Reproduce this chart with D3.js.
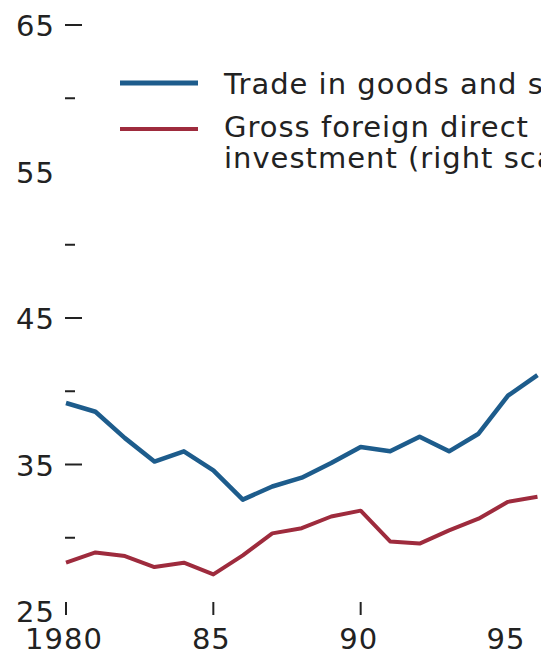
<!DOCTYPE html>
<html>
<head>
<meta charset="utf-8">
<script src="https://cdn.jsdelivr.net/npm/d3@7"></script>
<style>
  body { margin: 0; background: #fff; }
  svg { display: block; font-family: 'DejaVu Sans', sans-serif; }
  .label { font-size: 29px; fill: #222; letter-spacing: 1px; }
</style>
</head>
<body>
<div id="chart"></div>
<script>
// values; the red series is placed against the left axis
const years = [1980, 1981, 1982, 1983, 1984, 1985, 1986, 1987, 1988, 1989, 1990, 1991, 1992, 1993, 1994, 1995, 1996];
const trade = [39.2, 38.6, 36.8, 35.2, 35.9, 34.6, 32.6, 33.5, 34.1, 35.1, 36.2, 35.9, 36.9, 35.9, 37.1, 39.7, 41.1];
const fdi = [28.3, 29.0, 28.75, 28.0, 28.3, 27.5, 28.8, 30.3, 30.65, 31.45, 31.85, 29.75, 29.6, 30.5, 31.3, 32.45, 32.8];

const yLabels = [65, 55, 45, 35, 25];
const yMajor = [65, 45, 35];
const yMinor = [60, 50, 40, 30];
const xTicks = [1980, 1985, 1990];
const xLabels = [1980, 1985, 1990, 1995];
const legendItems = ['Trade in goods and services', 'Gross foreign direct', 'investment (right scale)'];

const width = 541;
const height = 657;
const blue = '#1d5c8c';
const red = '#9e2b3d';

let svg = d3.select('#chart').append('svg')
  .attr('width', width)
  .attr('height', height)

let x = d3.scaleLinear().domain([1980, 1995]).range([66, 508])
let y = d3.scaleLinear().domain([25, 65]).range([611, 25])
let y2 = d3.scaleLinear().domain([25, 65]).range([611, 25])

// left axis: long dashes, short minor dashes, labels
let yAxis = svg.append('g')
yAxis.selectAll('line.major').data(yMajor)
  .enter().append('line')
    .classed('major', true)
    .attr('x1', 65).attr('x2', 82)
    .attr('y1', d => y(d)).attr('y2', d => y(d))
    .attr('stroke', '#222').attr('stroke-width', 2)
yAxis.selectAll('line.minor').data(yMinor)
  .enter().append('line')
    .classed('minor', true)
    .attr('x1', 65).attr('x2', 75)
    .attr('y1', d => y(d)).attr('y2', d => y(d))
    .attr('stroke', '#222').attr('stroke-width', 2)
yAxis.selectAll('text').data(yLabels)
  .enter().append('text')
    .classed('label', true)
    .attr('x', 16)
    .attr('y', d => y(d) + 11)
    .text(d => d)

// bottom axis
let xAxis = svg.append('g')
xAxis.selectAll('line').data(xTicks)
  .enter().append('line')
    .attr('x1', d => x(d)).attr('x2', d => x(d))
    .attr('y1', 602).attr('y2', 615)
    .attr('stroke', '#222').attr('stroke-width', 2)
xAxis.selectAll('text').data(xLabels)
  .enter().append('text')
    .classed('label', true)
    .attr('x', d => x(d) - 2)
    .attr('y', 649)
    .attr('text-anchor', 'middle')
    .text(d => d === 1980 ? '1980' : String(d).slice(2))

let tradeLine = d3.line().x((d, i) => x(years[i])).y(d => y(d))
let fdiLine = d3.line().x((d, i) => x(years[i])).y(d => y2(d))

svg.append('path')
  .attr('d', fdiLine(fdi))
  .attr('fill', 'none').attr('stroke', red).attr('stroke-width', 4)
  .attr('stroke-linejoin', 'round')

svg.append('path')
  .attr('d', tradeLine(trade))
  .attr('fill', 'none').attr('stroke', blue).attr('stroke-width', 4.5)
  .attr('stroke-linejoin', 'round')

// legend
let legend = svg.append('g')
legend.append('line')
  .attr('x1', 120).attr('x2', 198).attr('y1', 83).attr('y2', 83)
  .attr('stroke', blue).attr('stroke-width', 5)
legend.append('line')
  .attr('x1', 120).attr('x2', 198).attr('y1', 129).attr('y2', 129)
  .attr('stroke', red).attr('stroke-width', 4)
legend.selectAll('text').data(legendItems)
  .enter().append('text')
    .classed('label', true)
    .attr('x', 224)
    .attr('y', (d, i) => [94, 137, 168][i])
    .text(d => d)
</script>
</body>
</html>
